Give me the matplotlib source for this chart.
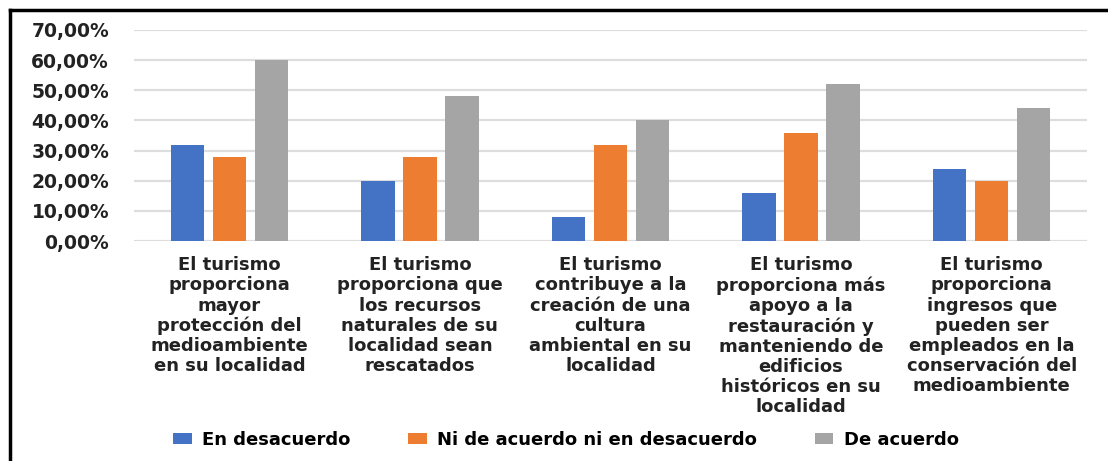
import numpy as np
import matplotlib.pyplot as plt
from matplotlib.lines import Line2D
from matplotlib.ticker import FuncFormatter

categories = [
    "El turismo\nproporciona\nmayor\nprotección del\nmedioambiente\nen su localidad",
    "El turismo\nproporciona que\nlos recursos\nnaturales de su\nlocalidad sean\nrescatados",
    "El turismo\ncontribuye a la\ncreación de una\ncultura\nambiental en su\nlocalidad",
    "El turismo\nproporciona más\napoyo a la\nrestauración y\nmanteniendo de\nedificios\nhistóricos en su\nlocalidad",
    "El turismo\nproporciona\ningresos que\npueden ser\nempleados en la\nconservación del\nmedioambiente",
]
series_names = ["En desacuerdo", "Ni de acuerdo ni en desacuerdo", "De acuerdo"]
desacuerdo = [0.32, 0.20, 0.08, 0.16, 0.24]
neutral = [0.28, 0.28, 0.32, 0.36, 0.20]
acuerdo = [0.60, 0.48, 0.40, 0.52, 0.44]
colors = ["#4472C4", "#ED7D31", "#A5A5A5"]

plt.rcParams["font.family"] = ["DejaVu Sans"]
plt.rcParams["font.weight"] = "bold"

fig = plt.figure(figsize=(11.08, 4.61), dpi=100)
ax = fig.add_axes([0.121, 0.477, 0.860, 0.458])

x = np.arange(len(categories))
width = 0.175
step = 0.22
for i, (vals, name) in enumerate(zip([desacuerdo, neutral, acuerdo], series_names)):
    ax.bar(x + (i - 1) * step, vals, width, color=colors[i], label=name, zorder=3)

ax.set_xlim(-0.5, len(categories) - 0.5)
ax.set_ylim(0, 0.70)
ax.set_yticks(np.arange(0, 0.71, 0.10))
ax.yaxis.set_major_formatter(FuncFormatter(lambda v, p: f"{v * 100:.2f}%".replace(".", ",")))
ax.grid(axis="y", color="#dddddd", linewidth=1.6, zorder=0)
for s in ax.spines.values():
    s.set_visible(False)
ax.tick_params(axis="both", length=0, colors="#222222")
ax.tick_params(axis="y", labelsize=13.5, pad=18)
ax.set_xticks(x)
ax.set_xticklabels(categories, fontsize=13, linespacing=1.15, va="top")
ax.tick_params(axis="x", pad=11)

leg = fig.legend(loc="center", bbox_to_anchor=(0.511, 0.045), ncol=3, frameon=False,
                 fontsize=13, handlelength=1.0, handleheight=0.55, columnspacing=3.2,
                 handletextpad=0.6)

# black frame on left and top, as in the cropped original
fig.add_artist(Line2D([0.009, 0.009], [0, 0.978], transform=fig.transFigure, color="black", linewidth=2.5))
fig.add_artist(Line2D([0.009, 1.0], [0.978, 0.978], transform=fig.transFigure, color="black", linewidth=2.5))

fig.savefig("out.png", dpi=100)
